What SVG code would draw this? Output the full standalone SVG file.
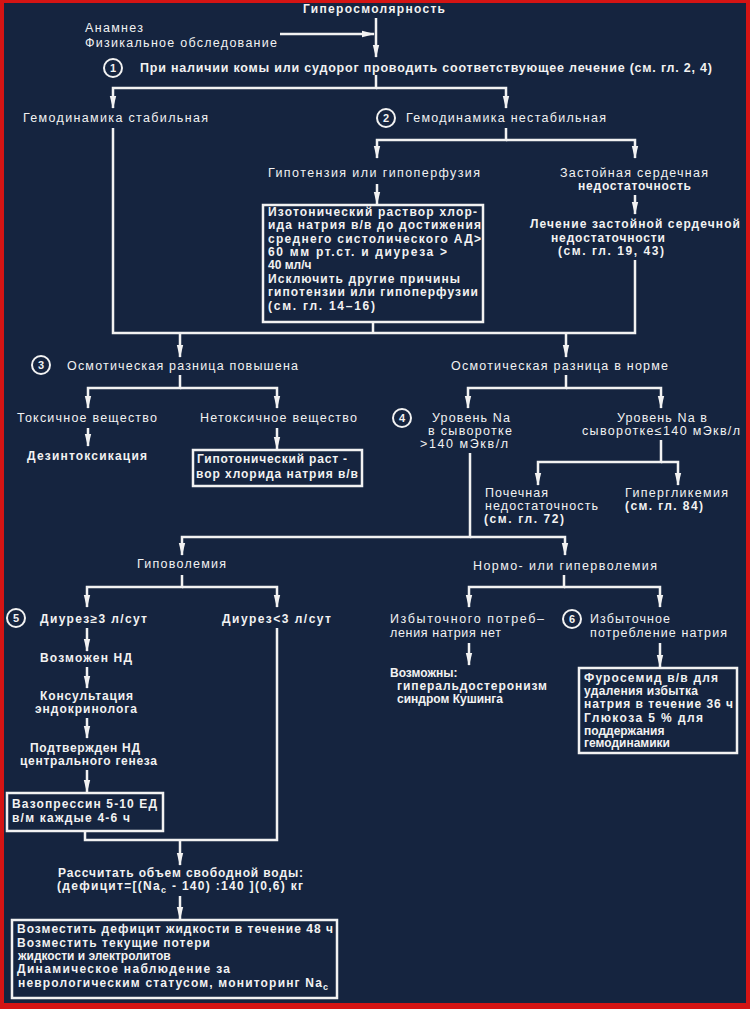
<svg xmlns="http://www.w3.org/2000/svg" width="750" height="1009" viewBox="0 0 750 1009">
<style>
text{font-family:"Liberation Sans","DejaVu Sans",sans-serif;font-size:12.5px;fill:#f2f2f2}
.b{font-weight:bold;font-size:12px}
.n{font-size:11px;font-weight:bold;text-anchor:middle}
.t{font-size:12px;font-weight:bold}
.box{fill:none;stroke:#f2f2f2;stroke-width:2.5}
.c{fill:none;stroke:#f2f2f2;stroke-width:2}
#edges path{fill:none;stroke:#f2f2f2;stroke-width:2.5}
.a{marker-end:url(#arr)}
</style>
<defs>
<marker id="arr" markerUnits="userSpaceOnUse" markerWidth="13" markerHeight="8" refX="12" refY="4" orient="auto">
<path d="M0,0.8 L13,4 L0,7.2 Z" fill="#f2f2f2"/>
</marker>
</defs>
<rect x="0" y="0" width="750" height="1009" fill="#d41414"/>
<rect x="4" y="3" width="742" height="1000" fill="#15243f"/>

<g id="edges">
<path class="a" d="M376,18 V57"/>
<path class="a" d="M280,34 H374"/>
<path class="a" d="M376,75 V88 H113 V108"/>
<path class="a" d="M376,88 H506 V108"/>
<path d="M113,128 V333 H635 V260"/>
<path d="M373,322 V333"/>
<path class="a" d="M506,128 V140 H377 V158"/>
<path class="a" d="M506,140 H635 V158"/>
<path class="a" d="M377,184 V204"/>
<path class="a" d="M635,195 V214"/>
<path class="a" d="M180,333 V357"/>
<path class="a" d="M566,333 V357"/>
<path class="a" d="M180,375 V388 H88 V408"/>
<path class="a" d="M180,388 H277 V408"/>
<path class="a" d="M88,428 V446"/>
<path class="a" d="M277,428 V449"/>
<path class="a" d="M566,375 V388 H468 V408"/>
<path class="a" d="M566,388 H661 V408"/>
<path class="a" d="M661,440 V462 H538 V485"/>
<path class="a" d="M661,462 H678 V485"/>
<path class="a" d="M470,453 V537 H182 V555"/>
<path class="a" d="M470,537 H565 V555"/>
<path class="a" d="M182,575 V587 H87 V607"/>
<path class="a" d="M182,587 H277 V607"/>
<path class="a" d="M87,628 V651"/>
<path class="a" d="M87,667 V688"/>
<path class="a" d="M87,718 V738"/>
<path class="a" d="M87,770 V792"/>
<path d="M277,628 V840 H85 V831"/>
<path class="a" d="M180,840 V865"/>
<path class="a" d="M180,896 V919"/>
<path class="a" d="M564,575 V587 H469 V607"/>
<path class="a" d="M564,587 H660 V607"/>
<path class="a" d="M469,643 V665"/>
<path class="a" d="M660,643 V667"/>
</g>

<g id="n-title"><text class="t" x="303" y="13" textLength="142" lengthAdjust="spacing">Гиперосмолярность</text></g>
<g id="n-anamnez">
<text x="85" y="32" textLength="58" lengthAdjust="spacing">Анамнез</text>
<text x="85" y="47" textLength="192" lengthAdjust="spacing">Физикальное обследование</text>
</g>
<g id="n-1">
<circle class="c" cx="113" cy="68" r="9"/><text class="n" x="113" y="72">1</text>
<text class="b" x="140" y="72" textLength="572" lengthAdjust="spacing" style="font-size:12.5px">При наличии комы или судорог проводить соответствующее лечение (см. гл. 2, 4)</text>
</g>
<g id="n-stable"><text x="23" y="122" textLength="185" lengthAdjust="spacing">Гемодинамика стабильная</text></g>
<g id="n-unstable">
<circle class="c" cx="386" cy="118" r="9"/><text class="n" x="386" y="122">2</text>
<text x="406" y="122" textLength="200" lengthAdjust="spacing">Гемодинамика нестабильная</text>
</g>
<g id="n-hypotension"><text x="268" y="177" textLength="212" lengthAdjust="spacing">Гипотензия или гипоперфузия</text></g>
<g id="n-isotonic">
<rect class="box" x="263" y="205" width="220" height="117"/>
<text class="b" x="268" y="216" textLength="209" lengthAdjust="spacing">Изотонический раствор хлор-</text>
<text class="b" x="268" y="229" textLength="213" lengthAdjust="spacing">ида натрия в/в до достижения</text>
<text class="b" x="268" y="243" textLength="213" lengthAdjust="spacing">среднего систолического АД&gt;</text>
<text class="b" x="268" y="256" textLength="179" lengthAdjust="spacing">60 мм рт.ст. и диуреза &gt;</text>
<text class="b" x="268" y="269">40 мл/ч</text>
<text class="b" x="268" y="283" textLength="192" lengthAdjust="spacing">Исключить другие причины</text>
<text class="b" x="268" y="296" textLength="210" lengthAdjust="spacing">гипотензии или гипоперфузии</text>
<text class="b" x="268" y="310" textLength="107" lengthAdjust="spacing">(см. гл. 14–16)</text>
</g>
<g id="n-chf">
<text x="560" y="177" textLength="148" lengthAdjust="spacing">Застойная сердечная</text>
<text class="b" x="578" y="190" textLength="113" lengthAdjust="spacing">недостаточность</text>
</g>
<g id="n-chf-treat">
<text class="b" x="530" y="228" textLength="210" lengthAdjust="spacing">Лечение застойной сердечной</text>
<text class="b" x="551" y="242" textLength="114" lengthAdjust="spacing">недостаточности</text>
<text class="b" x="558" y="255" textLength="106" lengthAdjust="spacing">(см. гл. 19, 43)</text>
</g>
<g id="n-osm-high">
<circle class="c" cx="41" cy="365" r="9"/><text class="n" x="41" y="369">3</text>
<text x="67" y="370" textLength="231" lengthAdjust="spacing">Осмотическая разница повышена</text>
</g>
<g id="n-osm-norm"><text x="451" y="370" textLength="217" lengthAdjust="spacing">Осмотическая разница в норме</text></g>
<g id="n-toxic"><text x="17" y="422" textLength="140" lengthAdjust="spacing">Токсичное вещество</text></g>
<g id="n-nontoxic"><text x="200" y="422" textLength="157" lengthAdjust="spacing">Нетоксичное вещество</text></g>
<g id="n-detox"><text class="b" x="27" y="460" textLength="120" lengthAdjust="spacing">Дезинтоксикация</text></g>
<g id="n-hypotonic">
<rect class="box" x="193" y="450" width="169" height="36"/>
<text class="b" x="197" y="463" textLength="150" lengthAdjust="spacing">Гипотонический раст -</text>
<text class="b" x="196" y="478" textLength="162" lengthAdjust="spacing">вор хлорида натрия в/в</text>
</g>
<g id="n-na-high">
<circle class="c" cx="402" cy="418" r="9"/><text class="n" x="402" y="422">4</text>
<text x="432" y="422" textLength="78" lengthAdjust="spacing">Уровень Na</text>
<text x="428" y="435" textLength="84" lengthAdjust="spacing">в сыворотке</text>
<text x="420" y="448" textLength="88" lengthAdjust="spacing">&gt;140 мЭкв/л</text>
</g>
<g id="n-na-low">
<text x="617" y="422" textLength="90" lengthAdjust="spacing">Уровень Na в</text>
<text x="582" y="435" textLength="158" lengthAdjust="spacing">сыворотке≤140 мЭкв/л</text>
</g>
<g id="n-renal">
<text x="485" y="497" textLength="63" lengthAdjust="spacing">Почечная</text>
<text x="485" y="510" textLength="113" lengthAdjust="spacing">недостаточность</text>
<text class="b" x="484" y="523" textLength="80" lengthAdjust="spacing">(см. гл. 72)</text>
</g>
<g id="n-hyperglyc">
<text x="625" y="497" textLength="103" lengthAdjust="spacing">Гипергликемия</text>
<text class="b" x="625" y="510" textLength="78" lengthAdjust="spacing">(см. гл. 84)</text>
</g>
<g id="n-hypovol"><text x="137" y="568" textLength="89" lengthAdjust="spacing">Гиповолемия</text></g>
<g id="n-normovol"><text x="473" y="570" textLength="184" lengthAdjust="spacing">Нормо- или гиперволемия</text></g>
<g id="n-diur-high">
<circle class="c" cx="16" cy="618" r="9"/><text class="n" x="16" y="622">5</text>
<text class="b" x="40" y="623" textLength="107" lengthAdjust="spacing">Диурез≥3 л/сут</text>
</g>
<g id="n-diur-low"><text class="b" x="222" y="623" textLength="109" lengthAdjust="spacing">Диурез&lt;3 л/сут</text></g>
<g id="n-nd"><text class="b" x="40" y="662" textLength="92" lengthAdjust="spacing">Возможен НД</text></g>
<g id="n-consult">
<text class="b" x="40" y="700" textLength="93" lengthAdjust="spacing">Консультация</text>
<text class="b" x="35" y="713" textLength="102" lengthAdjust="spacing">эндокринолога</text>
</g>
<g id="n-confirmed">
<text class="b" x="30" y="752" textLength="110" lengthAdjust="spacing">Подтвержден НД</text>
<text class="b" x="20" y="765" textLength="137" lengthAdjust="spacing">центрального генеза</text>
</g>
<g id="n-vaso">
<rect class="box" x="7" y="793" width="156" height="38"/>
<text class="b" x="12" y="808" textLength="145" lengthAdjust="spacing">Вазопрессин 5-10 ЕД</text>
<text class="b" x="12" y="822" textLength="118" lengthAdjust="spacing">в/м каждые 4-6 ч</text>
</g>
<g id="n-calc">
<text class="b" x="58" y="877" textLength="245" lengthAdjust="spacing">Рассчитать объем свободной воды:</text>
<text class="b" x="57" y="890" textLength="246" lengthAdjust="spacing">(дефицит=[(Na<tspan font-size="9" dy="3">c</tspan><tspan dy="-3"> - 140) :140 ](0,6) кг</tspan></text>
</g>
<g id="n-replace">
<rect class="box" x="12" y="920" width="325" height="78"/>
<text class="b" x="17" y="933" textLength="316" lengthAdjust="spacing">Возместить дефицит жидкости в течение 48 ч</text>
<text class="b" x="17" y="947" textLength="193" lengthAdjust="spacing">Возместить текущие потери</text>
<text class="b" x="18" y="960">жидкости и электролитов</text>
<text class="b" x="17" y="973" textLength="213" lengthAdjust="spacing">Динамическое наблюдение за</text>
<text class="b" x="18" y="987" textLength="310" lengthAdjust="spacing">неврологическим статусом, мониторинг Na<tspan font-size="9" dy="3">с</tspan></text>
</g>
<g id="n-no-excess">
<text x="390" y="623" textLength="154" lengthAdjust="spacing">Избыточного потреб–</text>
<text x="390" y="637" textLength="111" lengthAdjust="spacing">ления натрия нет</text>
</g>
<g id="n-excess">
<circle class="c" cx="572" cy="619" r="9"/><text class="n" x="572" y="623">6</text>
<text x="590" y="623" textLength="80" lengthAdjust="spacing">Избыточное</text>
<text x="590" y="637" textLength="137" lengthAdjust="spacing">потребление натрия</text>
</g>
<g id="n-possible">
<text class="b" x="390" y="677">Возможны:</text>
<text class="b" x="397" y="690" textLength="150" lengthAdjust="spacing">гиперальдостеронизм</text>
<text class="b" x="397" y="703">синдром Кушинга</text>
</g>
<g id="n-furo">
<rect class="box" x="579" y="668" width="158" height="85"/>
<text class="b" x="584" y="682" textLength="134" lengthAdjust="spacing">Фуросемид в/в для</text>
<text class="b" x="584" y="695" textLength="114" lengthAdjust="spacing">удаления избытка</text>
<text class="b" x="584" y="708" textLength="149" lengthAdjust="spacing">натрия в течение 36 ч</text>
<text class="b" x="584" y="722" textLength="119" lengthAdjust="spacing">Глюкоза 5 % для</text>
<text class="b" x="584" y="735">поддержания</text>
<text class="b" x="584" y="747">гемодинамики</text>
</g>
</svg>
